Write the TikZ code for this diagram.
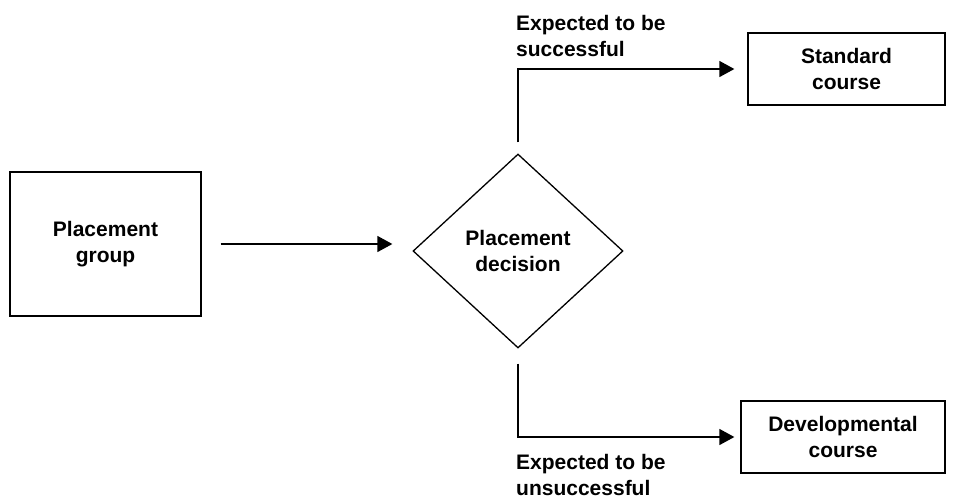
\documentclass[tikz,border=0pt]{standalone}
\usepackage{fontspec}
\setmainfont{Liberation Sans}
\usetikzlibrary{shapes.geometric,arrows.meta}
\tikzset{
    box/.style={draw, line width=1.3pt, align=center, inner sep=0pt},
    arr/.style={line width=1.3pt, -{Triangle[length=15pt,width=16pt]}},
    lbl/.style={anchor=north west, align=left, inner sep=0pt}
}
\begin{document}
\begin{tikzpicture}[x=1pt, y=-1pt, font={\fontsize{21}{26.5}\selectfont\bfseries}]
    \useasboundingbox (0,0) rectangle (979,499);
    \node[box, minimum width=191pt, minimum height=144pt] (group) at (105.5,244) {Placement\\group};
    \node[box, diamond, minimum width=210pt, minimum height=194pt] (decision) at (518,251) {Placement\\decision};
    \node[box, minimum width=197pt, minimum height=72pt] (standard) at (846.5,69) {Standard\\course};
    \node[box, minimum width=204pt, minimum height=72pt] (devel) at (843,437) {Developmental\\course};
    \node[lbl] (uplbl) at (516,15) {Expected to be\\successful};
    \node[lbl] (downlbl) at (516,454) {Expected to be\\unsuccessful};
    \draw[arr, shorten <=19pt, shorten >=20pt] (group.east) -- (group.east -| decision.west);
    \draw[arr, shorten <=11pt, shorten >=13pt] (decision.north) |- (standard.west);
    \draw[arr, shorten <=15pt, shorten >=6pt] (decision.south) |- (devel.west);
  \end{tikzpicture}
\end{document}
